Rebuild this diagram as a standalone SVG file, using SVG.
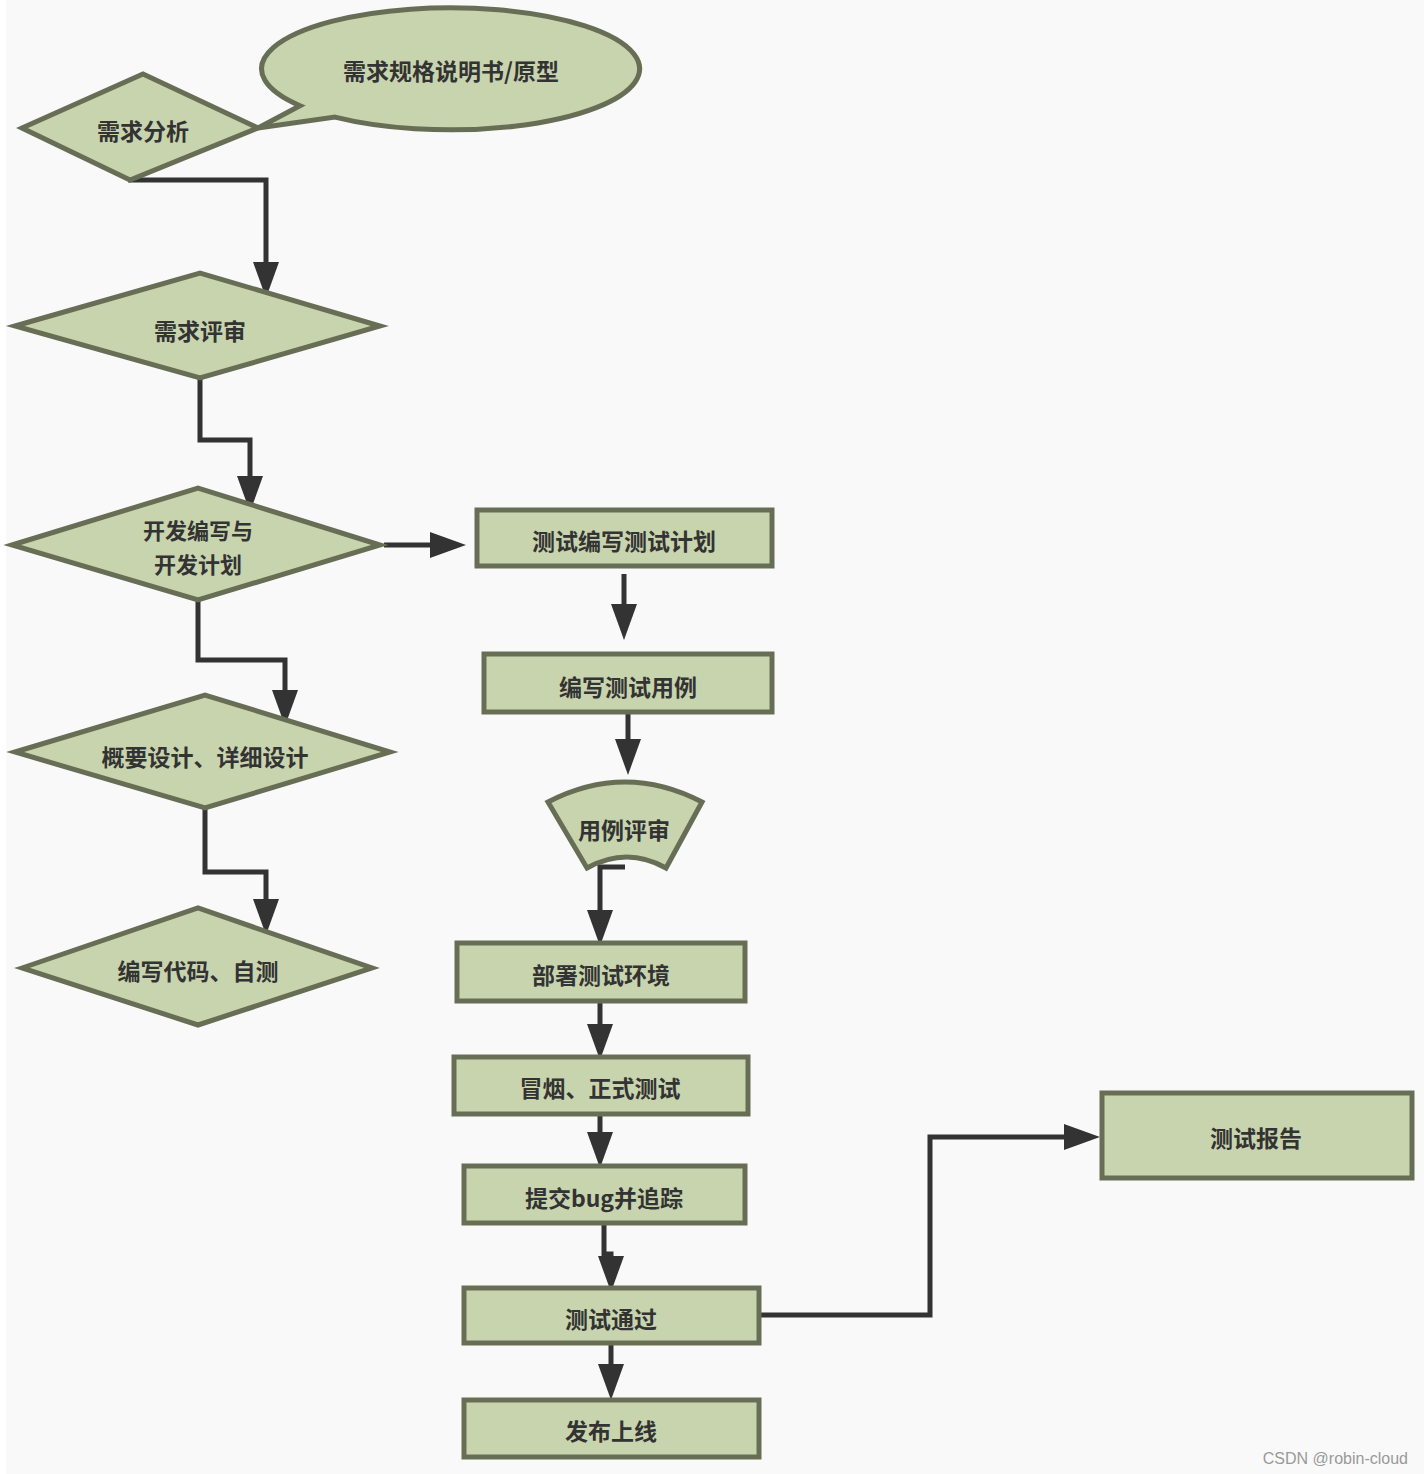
<svg xmlns="http://www.w3.org/2000/svg" width="1424" height="1474" viewBox="0 0 1424 1474">
<style>
.n{fill:#c8d4ad;stroke:#686e55;stroke-width:5;stroke-linejoin:miter}
.t{font-family:"Noto Sans CJK SC","Noto Sans",sans-serif;font-weight:bold;font-size:23px;fill:#333;text-anchor:middle;dominant-baseline:central}
.c{fill:none;stroke:#333;stroke-width:5}
</style>
<defs>
<marker id="ah" markerUnits="userSpaceOnUse" markerWidth="36" markerHeight="26" viewBox="0 0 36 26" refX="0" refY="13" orient="auto">
<path d="M0,0 L36,13 L0,26 Z" fill="#333"/>
</marker>
</defs>
<rect x="0" y="0" width="1424" height="1474" fill="#f9f9f9"/>
<rect x="0" y="0" width="6" height="1474" fill="#ffffff"/>
<g id="connectors">
<path class="c" d="M128,180 H266 V262" marker-end="url(#ah)"/>
<path class="c" d="M200,378 V440 H250 V476" marker-end="url(#ah)"/>
<path class="c" d="M384,545 H430" marker-end="url(#ah)"/>
<path class="c" d="M198,600 V660 H285 V690" marker-end="url(#ah)"/>
<path class="c" d="M205,808 V872 H266 V899" marker-end="url(#ah)"/>
<path class="c" d="M624,574 V604" marker-end="url(#ah)"/>
<path class="c" d="M628,712 V739" marker-end="url(#ah)"/>
<path class="c" d="M625,867 H600 V910" marker-end="url(#ah)"/>
<path class="c" d="M600,1001 V1024" marker-end="url(#ah)"/>
<path class="c" d="M600,1114 V1132" marker-end="url(#ah)"/>
<path class="c" d="M604,1223 V1254 H611 V1256" marker-end="url(#ah)"/>
<path class="c" d="M759,1315 H930 V1137 H1064" marker-end="url(#ah)"/>
<path class="c" d="M611,1343 V1364" marker-end="url(#ah)"/>
</g>
<g id="doc">
<path class="n" d="M300,105.7 A189,61 0 1,1 335,117.1 L258,128 Z"/>
<text class="t" x="451" y="70">需求规格说明书/原型</text>
</g>
<g id="req-analysis">
<polygon class="n" points="22,128 143,74 258,128 130,180"/>
<text class="t" x="143" y="130">需求分析</text>
</g>
<g id="req-review">
<polygon class="n" points="15,326 200,273 380,326 200,378"/>
<text class="t" x="200" y="330">需求评审</text>
</g>
<g id="dev-plan">
<polygon class="n" points="12,545 198,488 380,545 198,600"/>
<text class="t" x="198" y="529" style="font-size:22px">开发编写与</text>
<text class="t" x="198" y="563" style="font-size:22px">开发计划</text>
</g>
<g id="design">
<polygon class="n" points="15,752 205,695 390,752 205,808"/>
<text class="t" x="205" y="756">概要设计、详细设计</text>
</g>
<g id="coding">
<polygon class="n" points="22,968 198,908 372,968 198,1025"/>
<text class="t" x="198" y="970">编写代码、自测</text>
</g>
<g id="test-plan">
<rect class="n" x="477" y="510" width="295" height="56"/>
<text class="t" x="624" y="540">测试编写测试计划</text>
</g>
<g id="test-cases">
<rect class="n" x="484" y="654" width="288" height="58"/>
<text class="t" x="628" y="686">编写测试用例</text>
</g>
<g id="case-review">
<path class="n" d="M548,802 Q625,762 702,802 L666,868 Q627,846 587,868 Z"/>
<text class="t" x="624" y="829">用例评审</text>
</g>
<g id="deploy">
<rect class="n" x="457" y="943" width="288" height="58"/>
<text class="t" x="601" y="974">部署测试环境</text>
</g>
<g id="smoke">
<rect class="n" x="454" y="1057" width="294" height="57"/>
<text class="t" x="600" y="1087">冒烟、正式测试</text>
</g>
<g id="bug">
<rect class="n" x="464" y="1166" width="281" height="57"/>
<text class="t" x="604" y="1197">提交bug并追踪</text>
</g>
<g id="pass">
<rect class="n" x="464" y="1288" width="295" height="55"/>
<text class="t" x="611" y="1318">测试通过</text>
</g>
<g id="release">
<rect class="n" x="464" y="1400" width="295" height="57"/>
<text class="t" x="611" y="1430">发布上线</text>
</g>
<g id="report">
<rect class="n" x="1102" y="1093" width="310" height="85"/>
<text class="t" x="1256" y="1137">测试报告</text>
</g>
<text x="1408" y="1464" font-family="Liberation Sans,Arial,sans-serif" font-size="16" fill="#999" text-anchor="end">CSDN @robin-cloud</text>
</svg>
